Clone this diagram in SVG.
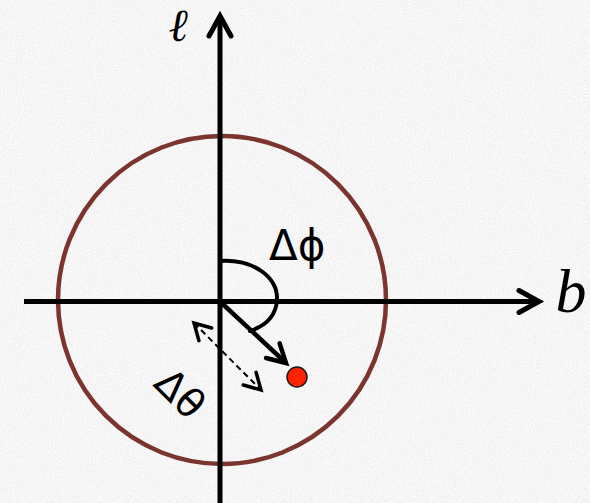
<svg xmlns="http://www.w3.org/2000/svg" width="590" height="503" viewBox="0 0 590 503">
  <defs>
    <filter id="paper" x="0" y="0" width="100%" height="100%" filterUnits="userSpaceOnUse">
      <feTurbulence type="fractalNoise" baseFrequency="0.85" numOctaves="3" seed="7"/>
      <feColorMatrix type="saturate" values="0"/>
      <feComponentTransfer>
        <feFuncR type="linear" slope="0.32" intercept="0.76"/>
        <feFuncG type="linear" slope="0.32" intercept="0.76"/>
        <feFuncB type="linear" slope="0.32" intercept="0.76"/>
        <feFuncA type="linear" slope="0" intercept="1"/>
      </feComponentTransfer>
    </filter>
    <marker id="axisHead" markerUnits="userSpaceOnUse" orient="auto" refX="0" refY="0" markerWidth="40" markerHeight="40" viewBox="-30 -20 40 40" overflow="visible">
      <polyline points="-20,-11 0,0 -20,11" fill="none" stroke="#000" stroke-width="5" stroke-linecap="round" stroke-linejoin="miter"/>
    </marker>
    <marker id="vecHead" markerUnits="userSpaceOnUse" orient="auto" refX="0" refY="0" markerWidth="40" markerHeight="40" viewBox="-30 -20 40 40" overflow="visible">
      <polyline points="-18,-10 0,0 -18,10" fill="none" stroke="#000" stroke-width="4.5" stroke-linecap="round" stroke-linejoin="miter"/>
    </marker>
    <marker id="dashHead" markerUnits="userSpaceOnUse" orient="auto-start-reverse" refX="0" refY="0" markerWidth="40" markerHeight="40" viewBox="-30 -20 40 40" overflow="visible">
      <polyline points="-16,-9 0,0 -16,9" fill="none" stroke="#000" stroke-width="3.5" stroke-linecap="round" stroke-linejoin="miter"/>
    </marker>
    <style>
      .axis { stroke: #000; stroke-width: 5; fill: none; }
      .ring { stroke: #7b342e; stroke-width: 4.5; fill: none; }
      .arc { stroke: #000; stroke-width: 4; fill: none; stroke-linecap: round; }
      .vec { stroke: #000; stroke-width: 4.5; fill: none; }
      .dash { stroke: #000; stroke-width: 2; fill: none; stroke-dasharray: 6 4; }
      .serif { font-family: "Liberation Serif", "DejaVu Serif", serif; font-style: italic; fill: #000; }
      .sans { font-family: "DejaVu Sans", "Liberation Sans", sans-serif; fill: #000; }
    </style>
  </defs>

  <rect id="background" x="0" y="0" width="590" height="503" fill="#ebebeb"/>
  <rect x="0" y="0" width="590" height="503" filter="url(#paper)"/>

  <g id="sky-circle">
    <circle class="ring" cx="222" cy="300" r="164"/>
  </g>

  <g id="connectors">
    <line id="b-axis" class="axis" x1="24" y1="301.5" x2="539" y2="301.5" marker-end="url(#axisHead)"/>
    <line id="l-axis" class="axis" x1="220" y1="503" x2="220" y2="16" marker-end="url(#axisHead)"/>
    <path id="phi-arc" class="arc" d="M220,261 C255,259 278,278 277,300 C276,316 265,326 250,331"/>
    <line id="offset-vector" class="vec" x1="220" y1="301.5" x2="286" y2="363" marker-end="url(#vecHead)"/>
    <line id="theta-span" class="dash" x1="194" y1="323" x2="261" y2="390" marker-start="url(#dashHead)" marker-end="url(#dashHead)"/>
  </g>

  <g id="source">
    <circle cx="297" cy="377" r="10" fill="#ff2200" stroke="#1a1a1a" stroke-width="1.5"/>
  </g>

  <g id="labels">
    <text id="label-l" class="serif" x="178" y="41" font-size="46" text-anchor="middle">ℓ</text>
    <text id="label-b" class="serif" x="571" y="312" font-size="62" text-anchor="middle">b</text>
    <text id="label-dphi" class="sans" x="269" y="260" font-size="42">Δϕ</text>
    <text id="label-dtheta" class="sans" font-size="40" transform="translate(152,385) rotate(45)">Δθ</text>
  </g>
</svg>
